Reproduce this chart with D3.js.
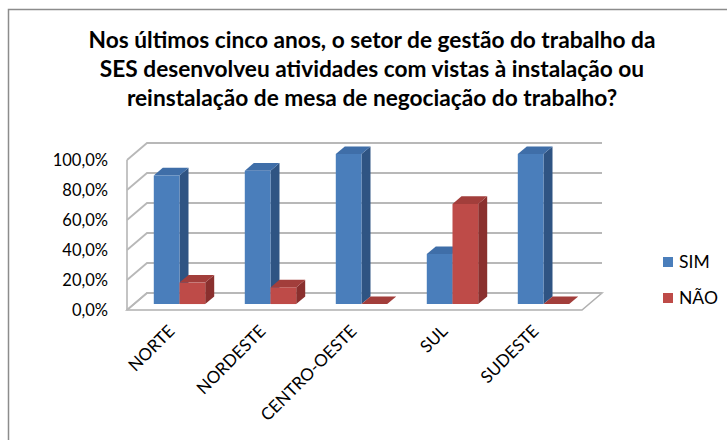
<!DOCTYPE html>
<html><head><meta charset="utf-8">
<script src="https://cdn.jsdelivr.net/npm/d3@7"></script>
<style>body{margin:0;background:#fff}svg{display:block}text{font-family:Lato,"Open Sans",sans-serif;fill:#000}</style>
</head><body>
<script>
const categories = ["NORTE","NORDESTE","CENTRO-OESTE","SUL","SUDESTE"];
const simValues = [85.7, 88.9, 100, 33.3, 100];
const naoValues = [14.3, 11.1, 0, 66.7, 0];
const seriesNames = ["SIM","NÃO"];
const yTicks = [0,20,40,60,80,100];
const titleLines = ["Nos últimos cinco anos, o setor de gestão do trabalho da","SES desenvolveu atividades com vistas à instalação ou","reinstalação de mesa de negociação do trabalho?"];

const W = 727, H = 440;
const svg = d3.select("body").append("svg").attr("width", W).attr("height", H);

// chart border
svg.append("rect").attr("x",8.5).attr("y",9.5).attr("width",740).attr("height",460)
  .attr("fill","none").attr("stroke","#8c8c8c").attr("stroke-width",1.5);

// title
const tt = svg.append("g").selectAll("text").data(titleLines).join("text")
  .attr("x", 372).attr("y",(d,i)=>48+i*29).attr("text-anchor","middle")
  .style("font-weight","bold").style("font-size","18px").text(d=>d);
const w0 = tt.nodes()[0].getComputedTextLength();
tt.style("font-size", (18*567/w0).toFixed(2)+"px");

// 3D geometry
const X0 = 127, Y0 = 310, PW = 455;
const DX = 20, DY = -17;
const y = d3.scaleLinear().domain([0,100]).range([0,150]);
const x = d3.scaleBand().domain(categories).range([0,PW]).paddingInner(0.435).paddingOuter(0.2175);
const xs = d3.scaleBand().domain(seriesNames).range([0,x.bandwidth()]);
const P = (px, v, d) => [X0 + px + DX*d, Y0 - y(v) + DY*d];
const poly = pts => "M" + pts.map(p=>p.join(",")).join("L") + "Z";

const grid = svg.append("g");
// floor
grid.append("path").attr("d", poly([P(0,0,0),P(PW,0,0),P(PW,0,1),P(0,0,1)]))
  .attr("fill","#fff").attr("stroke","#b0b0b0").attr("stroke-width",1.5);
// left wall front edge
grid.append("line").attr("x1",P(0,0,0)[0]).attr("y1",P(0,0,0)[1]).attr("x2",P(0,100,0)[0]).attr("y2",P(0,100,0)[1])
  .attr("stroke","#b0b0b0").attr("stroke-width",1.5);
yTicks.forEach(v=>{
  const a = P(0,v,0), b = P(0,v,1), c = P(PW,v,1);
  grid.append("path").attr("d", `M${a}L${b}L${c}`).attr("fill","none")
    .attr("stroke","#b8b8b8").attr("stroke-width",1.8);
});

// y labels
svg.append("g").selectAll("text").data(yTicks).join("text")
  .attr("x",108).attr("y",d=>P(0,d,0)[1]).attr("dy","0.35em").attr("text-anchor","end")
  .style("font-size","16.5px").text(d=>d3.format(".1f")(d).replace(".",",")+"%");

// bars
const colors = {
  SIM: {front:"#4a7ebb", side:"#2f5483", top:"#3f6ea8"},
  "NÃO": {front:"#be4b48", side:"#8a302e", top:"#a23e3b"}
};
const D1 = 0.35, D2 = 0.8;
const bars = [];
categories.forEach((c,i)=>{
  bars.push({cat:c, s:"SIM", v:simValues[i]});
  bars.push({cat:c, s:"NÃO", v:naoValues[i]});
});
const bg = svg.append("g");
bars.forEach(b=>{
  const x0 = x(b.cat) + xs(b.s), x1 = x0 + xs.bandwidth();
  const col = colors[b.s];
  bg.append("path").attr("d", poly([P(x1,0,D1),P(x1,0,D2),P(x1,b.v,D2),P(x1,b.v,D1)])).attr("fill",col.side);
  bg.append("path").attr("d", poly([P(x0,b.v,D1),P(x1,b.v,D1),P(x1,b.v,D2),P(x0,b.v,D2)])).attr("fill",col.top);
  if (b.v > 0) bg.append("path").attr("d", poly([P(x0,0,D1),P(x1,0,D1),P(x1,b.v,D1),P(x0,b.v,D1)])).attr("fill",col.front);
});

// category labels
svg.append("g").selectAll("text").data(categories).join("text")
  .attr("transform", d=>{ const p = P(x(d)+x.bandwidth()/2 - 1, 0, 0); return `translate(${p[0]},${p[1]+18}) rotate(-45)`; })
  .attr("text-anchor","end").attr("dy","0.35em").style("font-size","17px").text(d=>d);

// legend
const lg = svg.append("g").selectAll("g").data(seriesNames).join("g")
  .attr("transform",(d,i)=>`translate(663,${257+i*36})`);
lg.append("rect").attr("width",10).attr("height",10).attr("fill",d=>colors[d].front);
lg.append("text").attr("x",16).attr("y",5).attr("dy","0.35em").style("font-size","17.5px").text(d=>d);
</script>
</body></html>
